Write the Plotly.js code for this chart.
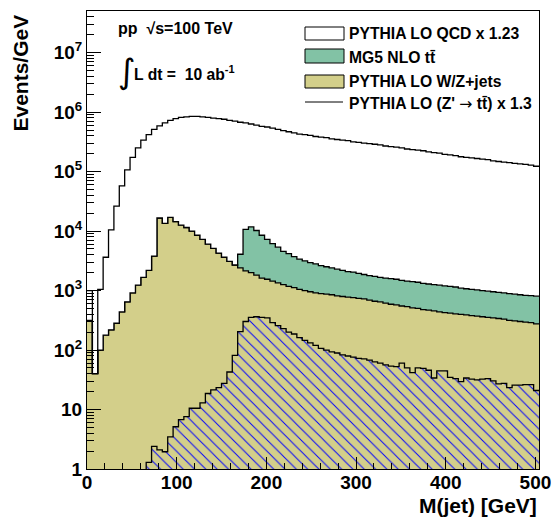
<!DOCTYPE html>
<html>
<head>
<meta charset="utf-8">
<script src="https://cdn.plot.ly/plotly-3.0.1.min.js"></script>
<style>html,body{margin:0;padding:0;background:#fff;}#chart{width:554px;height:520px;}</style>
</head>
<body>
<div id="chart"></div>
<script>
// ---- data (Events/GeV per 6 GeV bin of M(jet)) ----
const massEdges = [0,6,12,18,24,30,36,42,48,54,60,66,72,78,84,90,96,102,108,114,120,126,132,138,144,150,156,162,168,174,180,186,192,198,204,210,216,222,228,234,240,246,252,258,264,270,276,282,288,294,300,306,312,318,324,330,336,342,348,354,360,366,372,378,384,390,396,402,408,414,420,426,432,438,444,450,456,462,468,474,480,486,492,498,504];

const wzJets = [316,40,100,178,219,282,437,646,912,1230,
1660,2188,3802,16600,13490,16980,14450,12590,11480,10000,
8511,7244,6026,5129,4266,3631,3090,2692,2399,2138,
1995,1820,1622,1549,1445,1349,1259,1175,1122,1047,
1000,955,912,891,871,851,813,794,776,759,
741,724,692,661,646,617,589,575,550,537,
513,501,479,468,457,437,427,417,407,398,
389,380,372,363,355,347,339,331,316,309,
302,295,288,275];

const ttbar = [0,0,0,0,0,0,0,0,0,0,
0,0,0,0,0,0,0,0,0,0,
0,0,0,0,0,0,0,0,
1675,8577,9754,8413,6889,5695,4721,4021,3312,2994,
2593,2341,2162,1996,1906,1739,1641,1548,1478,1394,
1313,1283,1209,1138,1086,1077,1014,1005,996,974,
929,908,900,879,839,820,802,793,775,758,
741,698,683,667,651,637,622,608,594,581,
575,562,549,537,535,530];

const qcd = [684,0,947,3453,10250,26020,57100,106500,172900,250000,
337100,414700,509100,572200,647200,707400,761700,800200,820300,841100,
842600,824600,806800,789200,771900,755000,721300,705200,672000,650000,
619200,592400,566900,555100,530800,507500,485200,463500,443000,423200,
413700,404400,386200,377600,369000,352400,344400,336600,329000,314200,
307000,300100,293300,286700,280100,267600,261400,255500,249700,238500,
233000,227700,222600,212500,207600,203000,193800,189300,185100,176700,
172700,168800,165000,161200,157500,150400,147000,143600,140400,137100,
134000,131000,128000,122200];

const zprime = [0,0,0,0,0,0,0,0,0,0,
0,1.29,2.4,2.09,1.95,3.47,5.13,6.76,7.59,10.5,
10.5,12.9,18.6,21.4,23.4,27.5,42.7,81.3,204,302,
355,363,355,347,288,257,229,200,186,162,
145,132,120,107,100,93.3,89.1,83.2,79.4,75.9,
72.4,70.8,67.6,63.1,60.3,56.2,53.7,52.5,60.3,50.1,
41.7,50.1,49.0,45.7,33.9,44.7,44.7,34.7,33.1,29.5,
33.9,32.4,31.6,32.4,33.1,30.2,26.9,27.5,23.4,25.7,
25.7,26.3,26.3,20.9];

const legendLabels = ["PYTHIA LO QCD x 1.23", "MG5 NLO tt\u0304", "PYTHIA LO W/Z+jets",
  "PYTHIA LO (Z' <span style=\"font-family:'DejaVu Sans';font-weight:normal\">\u2192</span> tt\u0304) x 1.3"];
const yTickVals = [1,10,100,1000,10000,100000,1000000,10000000];
const yTickText = ["1","10","10<sup>2</sup>","10<sup>3</sup>","10<sup>4</sup>","10<sup>5</sup>","10<sup>6</sup>","10<sup>7</sup>"];
const xTickVals = [0,100,200,300,400,500];

// ---- colours ----
const cYellow = "#d3cf8a", cGreen = "#82c2a5";

// ---- build stacked step curves ----
const FLOOR = 0.1;
function stepY(arr){ const a = arr.map(v => v > 0 ? v : FLOOR); a.push(a[a.length-1]); return a; }
const sumWZ = wzJets.slice();
const sumTT = wzJets.map((v,i) => v + ttbar[i]);
const sumQCD = wzJets.map((v,i) => v + ttbar[i] + qcd[i]);
const floorY = massEdges.map(() => FLOOR);

const LW = 1.3;
const traces = [
  {x: massEdges, y: floorY, mode:'lines', line:{width:0, shape:'hv'}, hoverinfo:'skip', showlegend:false},
  {x: massEdges, y: stepY(sumWZ), mode:'lines', line:{color:'#000', width:LW, shape:'hv'}, fill:'tonexty', fillcolor:cYellow, name:"PYTHIA LO W/Z+jets", showlegend:false},
  {x: massEdges, y: stepY(sumTT), mode:'lines', line:{color:'#000', width:LW, shape:'hv'}, fill:'tonexty', fillcolor:cGreen, name:"MG5 NLO tt", showlegend:false},
  {x: massEdges, y: stepY(sumQCD), mode:'lines', line:{color:'#000', width:LW, shape:'hv'}, fill:'tonexty', fillcolor:'#ffffff', name:"PYTHIA LO QCD", showlegend:false},
  {x: massEdges, y: floorY, mode:'lines', line:{width:0, shape:'hv'}, hoverinfo:'skip', showlegend:false},
  {x: massEdges, y: stepY(zprime), mode:'lines', line:{color:'#000', width:LW, shape:'hv'}, fill:'tonexty', fillcolor:'rgba(0,0,0,0)',
   fillpattern:{shape:'\\', fgcolor:'#0000ff', bgcolor:'rgba(0,0,0,0)', size:8, solidity:0.12}, name:"Z'", showlegend:false}
];

// ---- layout helpers (pixel -> paper) ----
const W = 554, H = 520, ML = 87, MR = 15, MT = 11, MB = 51;
const PW = W - ML - MR, PH = H - MT - MB;
const px = x => (x - ML) / PW;
const py = y => (H - MB - y) / PH;

const FONT = "Liberation Sans, Arial, sans-serif";
const shapes = [
  {type:'rect', xref:'paper', yref:'paper', x0:px(305), x1:px(344), y0:py(40), y1:py(27), fillcolor:'#ffffff', line:{color:'#000', width:1}},
  {type:'rect', xref:'paper', yref:'paper', x0:px(305), x1:px(344), y0:py(63), y1:py(49), fillcolor:cGreen, line:{color:'#000', width:1}},
  {type:'rect', xref:'paper', yref:'paper', x0:px(305), x1:px(344), y0:py(88), y1:py(75), fillcolor:cYellow, line:{color:'#000', width:1}},
  {type:'line', xref:'paper', yref:'paper', x0:px(305), x1:px(343), y0:py(102), y1:py(102), line:{color:'#000', width:1}}
];
const legY = [33, 57, 81, 103];
const annotations = legendLabels.map((t,i) => ({
  text:t, xref:'paper', yref:'paper', x:px(347), y:py(legY[i]), xanchor:'left', yanchor:'middle', showarrow:false,
  font:{family:FONT, size:15.7, color:'#000', weight:'bold'}
}));
annotations.push(
  {text:"pp  \u221As=100 TeV", xref:'paper', yref:'paper', x:px(116), y:py(28), xanchor:'left', yanchor:'middle', showarrow:false, font:{family:FONT, size:16, weight:'bold', color:'#000'}},
  {text:"\u222B", xref:'paper', yref:'paper', x:px(116), y:py(71), xanchor:'left', yanchor:'middle', showarrow:false, font:{family:"DejaVu Sans", size:34, color:'#000'}},
  {text:"L dt =  10 ab<sup>-1</sup>", xref:'paper', yref:'paper', x:px(132), y:py(73), xanchor:'left', yanchor:'middle', showarrow:false, font:{family:FONT, size:15.7, weight:'bold', color:'#000'}},
  {text:"Events/GeV", xref:'paper', yref:'paper', x:px(20), y:py(13), xanchor:'center', yanchor:'top', textangle:-90, showarrow:false, font:{family:FONT, size:21, weight:'bold', color:'#000'}},
  {text:"M(jet) [GeV]", xref:'paper', yref:'paper', x:px(539), y:py(506), xanchor:'right', yanchor:'middle', showarrow:false, font:{family:FONT, size:21, weight:'bold', color:'#000'}}
);

const minorY = [];
for (let d = 0; d < 8; d++) for (let k = 2; k <= 9; k++) minorY.push(k * Math.pow(10, d));

const layout = {
  width:W, height:H, margin:{l:ML, r:MR, t:MT, b:MB, pad:0},
  paper_bgcolor:'#fff', plot_bgcolor:'#fff', showlegend:false,
  xaxis:{range:[0,504], tickmode:'array', tickvals:xTickVals, ticks:'inside', ticklen:12, tickwidth:1, tickcolor:'#000',
    minor:{tickmode:'linear', tick0:0, dtick:20, ticks:'inside', ticklen:6, tickwidth:1, tickcolor:'#000', showgrid:false},
    showgrid:false, zeroline:false, showline:true, mirror:true, linecolor:'#000', linewidth:1, ticklabelstandoff:-4,
    tickfont:{family:FONT, size:19, weight:'bold', color:'#000'}},
  yaxis:{type:'log', range:[0,7.70], tickmode:'array', tickvals:yTickVals, ticktext:yTickText, ticks:'inside', ticklen:14, tickwidth:1, tickcolor:'#000',
    minor:{tickmode:'array', tickvals:minorY, ticks:'inside', ticklen:7, tickwidth:1, tickcolor:'#000', showgrid:false},
    showgrid:false, zeroline:false, showline:true, mirror:true, linecolor:'#000', linewidth:1,
    tickfont:{family:FONT, size:19, weight:'bold', color:'#000'}},
  shapes:shapes, annotations:annotations
};

Plotly.newPlot('chart', traces, layout, {displayModeBar:false, staticPlot:true});
</script>
</body>
</html>
